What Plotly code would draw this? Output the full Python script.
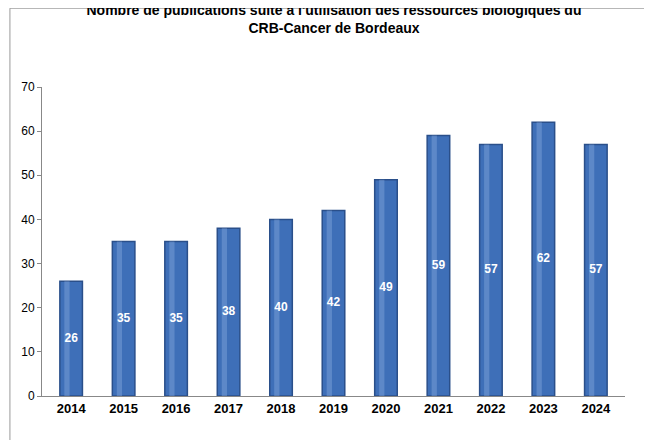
import plotly.graph_objects as go

years = ["2014","2015","2016","2017","2018","2019","2020","2021","2022","2023","2024"]
values = [26,35,35,38,40,42,49,59,57,62,57]

fig = go.Figure()
fig.add_trace(go.Bar(
    x=years, y=values, width=0.43,
    marker=dict(color="#3e6fb8", line=dict(color="#2a4f8a", width=1.5)),
    hoverinfo="skip"))
fig.add_trace(go.Bar(
    x=years, y=values, width=0.1, offset=-0.13,
    marker=dict(color="rgba(140,175,225,0.4)", line=dict(width=0)),
    hoverinfo="skip"))
fig.add_trace(go.Scatter(
    x=years, y=[v / 2 for v in values], mode="text",
    text=["<b>%d</b>" % v for v in values],
    textfont=dict(color="white", size=12, family="Liberation Sans"),
    hoverinfo="skip"))

fig.update_layout(
    width=652, height=440, barmode="overlay", showlegend=False,
    paper_bgcolor="white", plot_bgcolor="white",
    margin=dict(l=34, r=35, t=79, b=52),
    title=dict(text="<b>Nombre de publications suite à l'utilisation des ressources biologiques du<br>CRB-Cancer de Bordeaux</b>",
               x=0.5, xanchor="center", y=0.985, yanchor="top",
               font=dict(family="Liberation Sans", size=14, color="black")),
    font=dict(family="Liberation Sans", size=12, color="black"),
    xaxis=dict(showline=True, linecolor="#888", ticks="", tickfont=dict(size=13, family="Liberation Sans"),
               tickprefix="<b>", ticksuffix="</b>"),
    yaxis=dict(range=[0,70], dtick=10, showgrid=False, showline=True, linecolor="#888",
               ticks="outside", ticklen=4, tickcolor="#888", tickfont=dict(size=12)),
    shapes=[dict(type="rect", xref="paper", yref="paper", x0=-0.055, y0=-0.16, x1=1.058, y1=1.255,
                 line=dict(color="#999", width=1))],
)
fig.write_html("out.html")
